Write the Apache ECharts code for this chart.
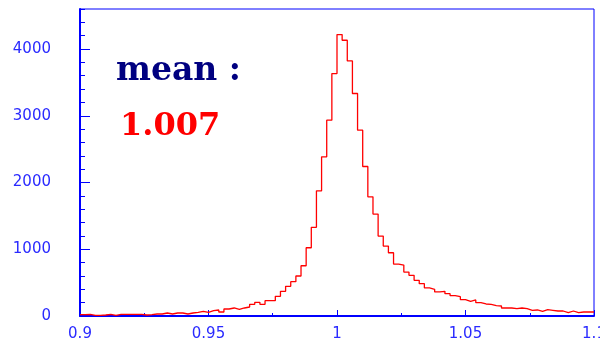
<!DOCTYPE html>
<html>
<head>
<meta charset="utf-8">
<script src="https://cdn.jsdelivr.net/npm/echarts@6/dist/echarts.min.js"></script>
<style>
  html, body { margin: 0; padding: 0; background: #ffffff; }
  #chart { width: 600px; height: 345px; }
</style>
</head>
<body>
<div id="chart"></div>
<script>
// Histogram binning: 100 bins of width 0.002 starting at 0.9
const binStart = 0.9;
const binWidth = 0.002;
const binCount = 100;

// Entries per bin
const counts = [
  20, 25, 10, 10, 15, 25, 10, 25, 25, 25, 25, 25, 15, 20, 30, 30, 45, 30, 45, 45,
  30, 45, 55, 70, 55, 80, 90, 60, 105, 120, 100, 120, 135, 175, 205, 175, 230, 230, 295, 370, 445,
  514, 599, 753, 1023, 1328, 1876, 2385, 2934, 3633, 4217,
  4132, 3822, 3334, 2784, 2240, 1786, 1527, 1198, 1048, 948, 778,
  763, 658, 610, 535, 485, 420, 400, 360, 370, 335, 305, 290, 245, 220, 240, 200, 180, 175, 155, 150,
  120, 120, 110, 120, 110, 85, 90, 70, 95, 85, 75, 75, 50, 75, 50, 60, 60, 60
];

// Axis ranges and annotation text
const xRange = [0.9, 1.1];
const yRange = [0, 4600];
const meanLabel = 'mean :';
const meanValue = '1.007';

// Step outline: one point per bin's lower edge, plus the closing upper edge
const stepPoints = counts.map((c, i) => [+(binStart + i * binWidth).toFixed(4), c]);
stepPoints.push([+(binStart + binCount * binWidth).toFixed(4), counts[counts.length - 1]]);

const blue = '#0000ff';
const labelBlue = '#2a2aff';
const tickFont = { fontFamily: 'DejaVu Sans', fontSize: 15, color: labelBlue };

const chart = echarts.init(document.getElementById('chart'), null, { renderer: 'canvas' });
chart.setOption({
  animation: false,
  backgroundColor: '#ffffff',
  grid: {
    left: 80, right: 6, top: 9, bottom: 29,
    outerBoundsMode: 'none',
    containLabel: false,
    show: true, borderColor: blue, borderWidth: 1, backgroundColor: 'transparent'
  },
  xAxis: {
    type: 'value',
    min: xRange[0], max: xRange[1], interval: 0.05,
    axisLine: { show: true, onZero: false, lineStyle: { color: blue, width: 2 } },
    axisTick: { inside: true, length: 6, lineStyle: { color: blue, width: 1 } },
    minorTick: { show: true, splitNumber: 2, length: 3, lineStyle: { color: blue, width: 1 } },
    splitLine: { show: false },
    axisLabel: Object.assign({
      margin: 11,
      hideOverlap: false,
      formatter: v => String(+(+v).toFixed(3))
    }, tickFont)
  },
  yAxis: [
    {
      type: 'value',
      min: yRange[0], max: yRange[1], interval: 1000,
      axisLine: { show: true, onZero: false, lineStyle: { color: blue, width: 2 } },
      axisTick: { inside: true, length: 10, lineStyle: { color: blue, width: 1 } },
      splitLine: { show: false },
      axisLabel: Object.assign({
        margin: 29,
        showMaxLabel: false,
        formatter: v => String(Math.round(v))
      }, tickFont)
    },
    {
      type: 'value',
      position: 'left',
      min: yRange[0], max: yRange[1], interval: 200,
      axisLine: { show: false },
      axisTick: { inside: true, length: 5, lineStyle: { color: blue, width: 1 } },
      splitLine: { show: false },
      axisLabel: { show: false }
    }
  ],
  series: [{
    type: 'line',
    yAxisIndex: 0,
    step: 'end',
    symbol: 'none',
    clip: true,
    data: stepPoints,
    lineStyle: { color: '#ff0000', width: 1.3 }
  }],
  graphic: [
    {
      type: 'text', left: 116, top: 55,
      style: { text: meanLabel, fill: '#000080', font: 'bold 33px "DejaVu Serif"' }
    },
    {
      type: 'text', left: 120, top: 111,
      style: { text: meanValue, fill: '#ff0000', font: 'bold 32px "DejaVu Serif"' }
    }
  ]
});
</script>
</body>
</html>
